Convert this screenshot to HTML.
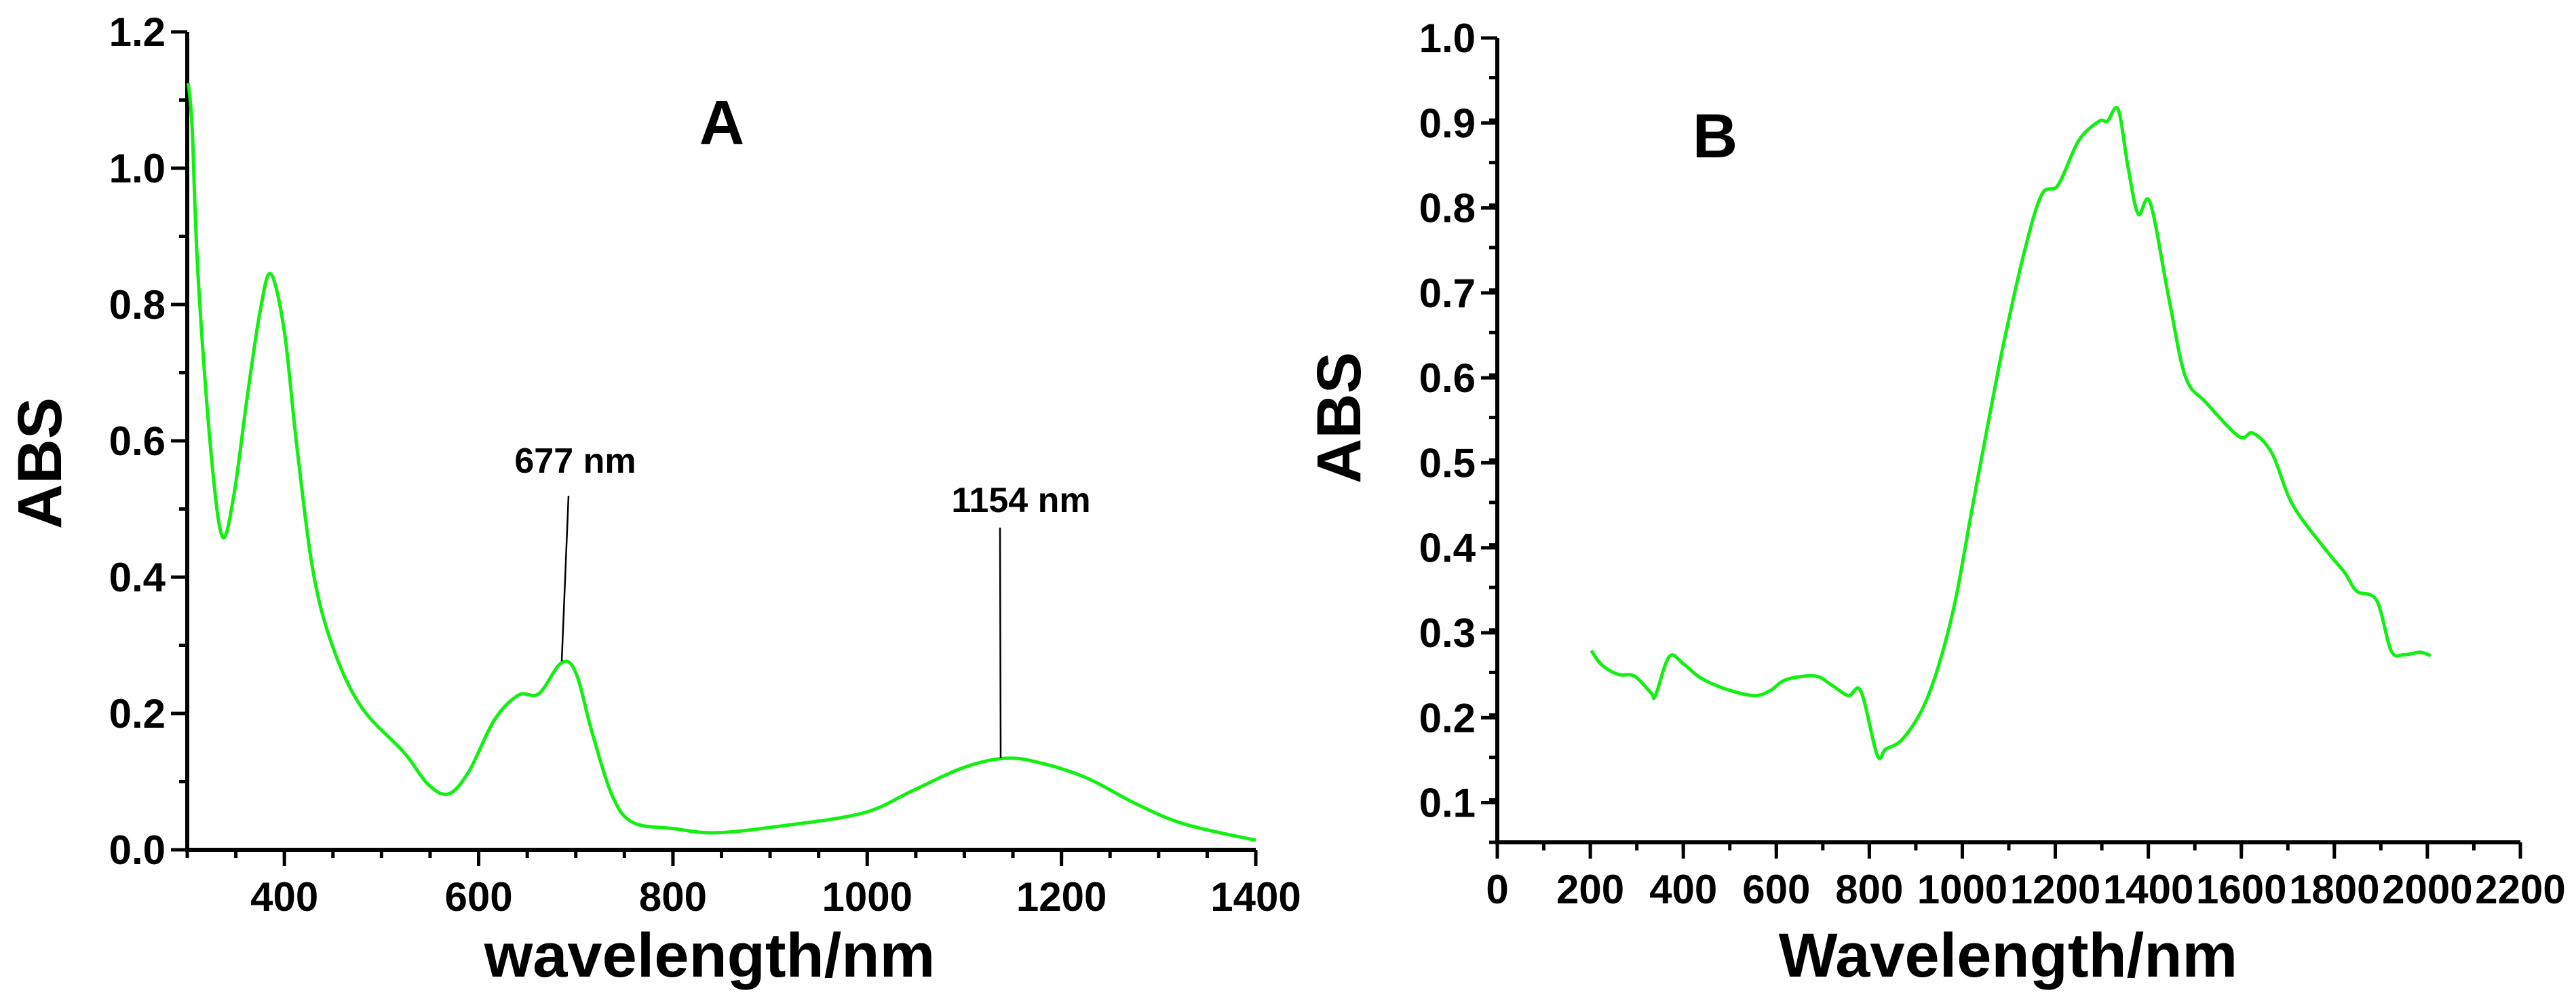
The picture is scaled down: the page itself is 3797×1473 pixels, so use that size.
<!DOCTYPE html>
<html><head><meta charset="utf-8"><style>
html,body{margin:0;padding:0;background:#fff;}
svg{display:block;font-family:"Liberation Sans",Arial,sans-serif;font-weight:bold;}
</style></head><body>
<svg id="chart" width="3797" height="1473" viewBox="0 0 3797 1473" xmlns="http://www.w3.org/2000/svg">
<g id="pa"></g>
<g id="pb"></g>
</svg>
<script>
// Panel A data
const aX = [301,305,311,324,336,348,362,375,386,400,413,430,451,480,523,548,569,590,616,641,662,685,700,717,738,759,801,844,912,996,1047,1098,1140,1174,1225,1276,1326,1400];
const aY = [1.125,1.06,0.845,0.59,0.46,0.52,0.667,0.79,0.845,0.76,0.59,0.405,0.293,0.208,0.143,0.096,0.082,0.115,0.19,0.227,0.229,0.274,0.26,0.171,0.078,0.040,0.031,0.025,0.035,0.054,0.087,0.12,0.134,0.129,0.106,0.068,0.038,0.014];
const aXTicks = [400,600,800,1000,1200,1400];
const aYTicks = [0.0,0.2,0.4,0.6,0.8,1.0,1.2];
// Panel B data
const bX = [202,225,260,295,331,340,370,401,437,490,552,587,622,684,720,755,782,817,835,870,914,950,985,1020,1056,1091,1135,1171,1206,1250,1294,1312,1335,1356,1378,1404,1445,1480,1524,1595,1625,1666,1710,1781,1822,1848,1891,1922,1949,1984,2007];
const bY = [0.279,0.262,0.251,0.249,0.229,0.226,0.272,0.263,0.247,0.234,0.226,0.232,0.245,0.249,0.238,0.226,0.231,0.156,0.163,0.174,0.210,0.263,0.338,0.443,0.548,0.646,0.752,0.816,0.827,0.879,0.902,0.902,0.916,0.849,0.793,0.806,0.691,0.601,0.571,0.531,0.535,0.511,0.451,0.398,0.371,0.349,0.338,0.279,0.274,0.277,0.273];
const bXTicks = [0,200,400,600,800,1000,1200,1400,1600,1800,2000,2200];
const bYTicks = [0.1,0.2,0.3,0.4,0.5,0.6,0.7,0.8,0.9,1.0];

const NS="http://www.w3.org/2000/svg";
function mk(parent,tag,attrs,text){const e=document.createElementNS(NS,tag);for(const k in attrs)e.setAttribute(k,attrs[k]);if(text!==undefined)e.textContent=text;parent.appendChild(e);return e;}

function smoothPath(P){
  let d=`M${P[0][0].toFixed(1)},${P[0][1].toFixed(1)}`;
  for(let i=0;i<P.length-1;i++){
    const p0=P[Math.max(0,i-1)],p1=P[i],p2=P[i+1],p3=P[Math.min(P.length-1,i+2)];
    const k=1/6;
    const c1=[p1[0]+(p2[0]-p0[0])*k,p1[1]+(p2[1]-p0[1])*k];
    const c2=[p2[0]-(p3[0]-p1[0])*k,p2[1]-(p3[1]-p1[1])*k];
    d+=` C${c1[0].toFixed(1)},${c1[1].toFixed(1)} ${c2[0].toFixed(1)},${c2[1].toFixed(1)} ${p2[0].toFixed(1)},${p2[1].toFixed(1)}`;
  }
  return d;
}

function panel(g,cfg){
  const sx=v=>cfg.x0+(v-cfg.xmin)/(cfg.xmax-cfg.xmin)*(cfg.x1-cfg.x0);
  const sy=v=>cfg.y0-(v-cfg.ymin)/(cfg.ymax-cfg.ymin)*(cfg.y0-cfg.y1);
  for(let v=cfg.xmin;v<=cfg.xmax+1e-9;v+=cfg.xminor){
    const t=mk(g,'line',{x1:sx(v),x2:sx(v),y1:cfg.y0,y2:cfg.y0+12,stroke:'#000','stroke-width':5});
    
    
  }
  for(let v=cfg.ymin;v<=cfg.ymax+1e-9;v+=cfg.yminor){
    const t=mk(g,'line',{x1:cfg.x0-12,x2:cfg.x0,y1:sy(v),y2:sy(v),stroke:'#000','stroke-width':5});
    
    
  }
  cfg.xt.forEach(v=>{
    const t=mk(g,'line',{x1:sx(v),x2:sx(v),y1:cfg.y0,y2:cfg.y0+24,stroke:'#000','stroke-width':5});
    
    
    const l=mk(g,'text',{x:sx(v),y:cfg.y0+90,'text-anchor':'middle','font-size':60},String(v));
    
    
  });
  cfg.yt.forEach(v=>{
    const t=mk(g,'line',{x1:cfg.x0-24,x2:cfg.x0,y1:sy(v),y2:sy(v),stroke:'#000','stroke-width':5});
    
    
    const l=mk(g,'text',{x:cfg.x0-32,y:sy(v)+21,'text-anchor':'end','font-size':60},v.toFixed(1));
    
    
  });
  const ax=mk(g,'path',{d:`M${cfg.x0},${cfg.y1} V${cfg.y0} H${cfg.x1}`,fill:'none',stroke:'#000','stroke-width':6});
  
  
  const P=cfg.xs.map((x,i)=>[sx(x),sy(cfg.ys[i])]);
  const line=mk(g,'path',{d:smoothPath(P),fill:'none',stroke:'#11f011','stroke-width':5,'stroke-linejoin':'round'});
  
  
  return {sx,sy};
}

const ga=document.getElementById('pa');
panel(ga,{x0:276,x1:1851,y0:1253,y1:47,xmin:300,xmax:1400,ymin:0,ymax:1.2,xminor:50,yminor:0.1,xt:aXTicks,yt:aYTicks,xs:aX,ys:aY});
const gb=document.getElementById('pb');
panel(gb,{x0:2207,x1:3715,y0:1242,y1:56,xmin:0,xmax:2200,ymin:0.05333,ymax:1.0,xminor:100,yminor:0.05,xt:bXTicks,yt:bYTicks,xs:bX,ys:bY});

let t;
t=mk(ga,'text',{x:0,y:0,'font-size':92,'text-anchor':'middle',transform:'translate(90,683) rotate(-90)'},'ABS');


t=mk(ga,'text',{x:1046,y:1440,'font-size':92,'text-anchor':'middle'},'wavelength/nm');


t=mk(ga,'text',{x:1064,y:212,'font-size':92,'text-anchor':'middle'},'A');


t=mk(ga,'text',{x:848,y:697,'font-size':52,'text-anchor':'middle'},'677 nm');


t=mk(ga,'line',{x1:838,y1:731,x2:828,y2:975,stroke:'#000','stroke-width':2.5});


t=mk(ga,'text',{x:1505,y:755,'font-size':52,'text-anchor':'middle'},'1154 nm');


t=mk(ga,'line',{x1:1474,y1:778,x2:1475,y2:1118,stroke:'#000','stroke-width':2.5});



t=mk(gb,'text',{x:0,y:0,'font-size':92,'text-anchor':'middle',transform:'translate(2005,616) rotate(-90)'},'ABS');


t=mk(gb,'text',{x:2960,y:1440,'font-size':92,'text-anchor':'middle'},'Wavelength/nm');


t=mk(gb,'text',{x:2528,y:232,'font-size':92,'text-anchor':'middle'},'B');


</script>
</body></html>
